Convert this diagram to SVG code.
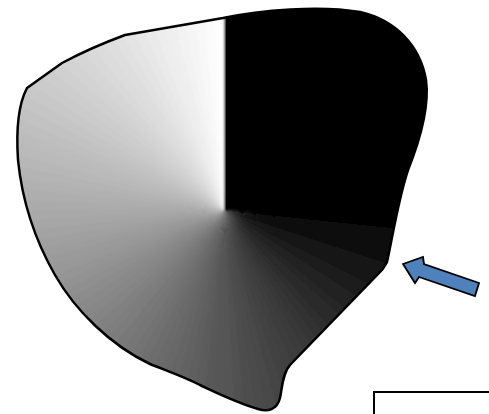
<svg xmlns="http://www.w3.org/2000/svg" xmlns:xlink="http://www.w3.org/1999/xlink" width="489" height="414" viewBox="0 0 489 414">
<style>
.outline{fill:none;stroke:#000;stroke-width:2.5;stroke-linejoin:round}
.arrow{fill:#4F81BD;stroke:#000;stroke-width:1.8;stroke-linejoin:miter}
.box{fill:none;stroke:#000;stroke-width:2}
</style>
<defs>
<path id="blob" d="M27 88 L62 63 Q90 48 125 35 L223 18 C260 10 320 5 360 12 C395 20 420 45 426 80 C430 110 418 145 408 170 C398 200 392 240 387 262 L382 270 L290 365 C282 374 282 390 280 398 C277 410 268 412 258 409 C235 402 215 392 200 385 C185 377 170 372 150 364 C110 345 75 310 55 275 C35 240 22 200 18 160 C16 130 18 105 27 88 Z"/>
<clipPath id="clip"><use xlink:href="#blob"/></clipPath>
<filter id="soft" x="-10%" y="-10%" width="120%" height="120%"><feGaussianBlur stdDeviation="1.2"/></filter>
<path id="w" d="M224 210 L224 -100 L245 -100 Z"/>
</defs>
<g id="shape">
<g clip-path="url(#clip)">
<g filter="url(#soft)">
<use xlink:href="#w" transform="rotate(90 224 210)" fill="rgb(1,1,1)"/>
<use xlink:href="#w" transform="rotate(93 224 210)" fill="rgb(4,4,4)"/>
<use xlink:href="#w" transform="rotate(96 224 210)" fill="rgb(7,7,7)"/>
<use xlink:href="#w" transform="rotate(99 224 210)" fill="rgb(10,10,10)"/>
<use xlink:href="#w" transform="rotate(102 224 210)" fill="rgb(13,13,13)"/>
<use xlink:href="#w" transform="rotate(105 224 210)" fill="rgb(16,16,16)"/>
<use xlink:href="#w" transform="rotate(108 224 210)" fill="rgb(18,18,18)"/>
<use xlink:href="#w" transform="rotate(111 224 210)" fill="rgb(21,21,21)"/>
<use xlink:href="#w" transform="rotate(114 224 210)" fill="rgb(24,24,24)"/>
<use xlink:href="#w" transform="rotate(117 224 210)" fill="rgb(27,27,27)"/>
<use xlink:href="#w" transform="rotate(120 224 210)" fill="rgb(30,30,30)"/>
<use xlink:href="#w" transform="rotate(123 224 210)" fill="rgb(33,33,33)"/>
<use xlink:href="#w" transform="rotate(126 224 210)" fill="rgb(35,35,35)"/>
<use xlink:href="#w" transform="rotate(129 224 210)" fill="rgb(38,38,38)"/>
<use xlink:href="#w" transform="rotate(132 224 210)" fill="rgb(41,41,41)"/>
<use xlink:href="#w" transform="rotate(135 224 210)" fill="rgb(44,44,44)"/>
<use xlink:href="#w" transform="rotate(138 224 210)" fill="rgb(47,47,47)"/>
<use xlink:href="#w" transform="rotate(141 224 210)" fill="rgb(50,50,50)"/>
<use xlink:href="#w" transform="rotate(144 224 210)" fill="rgb(52,52,52)"/>
<use xlink:href="#w" transform="rotate(147 224 210)" fill="rgb(55,55,55)"/>
<use xlink:href="#w" transform="rotate(150 224 210)" fill="rgb(58,58,58)"/>
<use xlink:href="#w" transform="rotate(153 224 210)" fill="rgb(61,61,61)"/>
<use xlink:href="#w" transform="rotate(156 224 210)" fill="rgb(64,64,64)"/>
<use xlink:href="#w" transform="rotate(159 224 210)" fill="rgb(67,67,67)"/>
<use xlink:href="#w" transform="rotate(162 224 210)" fill="rgb(69,69,69)"/>
<use xlink:href="#w" transform="rotate(165 224 210)" fill="rgb(72,72,72)"/>
<use xlink:href="#w" transform="rotate(168 224 210)" fill="rgb(75,75,75)"/>
<use xlink:href="#w" transform="rotate(171 224 210)" fill="rgb(78,78,78)"/>
<use xlink:href="#w" transform="rotate(174 224 210)" fill="rgb(81,81,81)"/>
<use xlink:href="#w" transform="rotate(177 224 210)" fill="rgb(84,84,84)"/>
<use xlink:href="#w" transform="rotate(180 224 210)" fill="rgb(86,86,86)"/>
<use xlink:href="#w" transform="rotate(183 224 210)" fill="rgb(89,89,89)"/>
<use xlink:href="#w" transform="rotate(186 224 210)" fill="rgb(92,92,92)"/>
<use xlink:href="#w" transform="rotate(189 224 210)" fill="rgb(95,95,95)"/>
<use xlink:href="#w" transform="rotate(192 224 210)" fill="rgb(98,98,98)"/>
<use xlink:href="#w" transform="rotate(195 224 210)" fill="rgb(101,101,101)"/>
<use xlink:href="#w" transform="rotate(198 224 210)" fill="rgb(103,103,103)"/>
<use xlink:href="#w" transform="rotate(201 224 210)" fill="rgb(106,106,106)"/>
<use xlink:href="#w" transform="rotate(204 224 210)" fill="rgb(109,109,109)"/>
<use xlink:href="#w" transform="rotate(207 224 210)" fill="rgb(112,112,112)"/>
<use xlink:href="#w" transform="rotate(210 224 210)" fill="rgb(115,115,115)"/>
<use xlink:href="#w" transform="rotate(213 224 210)" fill="rgb(118,118,118)"/>
<use xlink:href="#w" transform="rotate(216 224 210)" fill="rgb(120,120,120)"/>
<use xlink:href="#w" transform="rotate(219 224 210)" fill="rgb(123,123,123)"/>
<use xlink:href="#w" transform="rotate(222 224 210)" fill="rgb(126,126,126)"/>
<use xlink:href="#w" transform="rotate(225 224 210)" fill="rgb(129,129,129)"/>
<use xlink:href="#w" transform="rotate(228 224 210)" fill="rgb(132,132,132)"/>
<use xlink:href="#w" transform="rotate(231 224 210)" fill="rgb(135,135,135)"/>
<use xlink:href="#w" transform="rotate(234 224 210)" fill="rgb(137,137,137)"/>
<use xlink:href="#w" transform="rotate(237 224 210)" fill="rgb(140,140,140)"/>
<use xlink:href="#w" transform="rotate(240 224 210)" fill="rgb(143,143,143)"/>
<use xlink:href="#w" transform="rotate(243 224 210)" fill="rgb(146,146,146)"/>
<use xlink:href="#w" transform="rotate(246 224 210)" fill="rgb(149,149,149)"/>
<use xlink:href="#w" transform="rotate(249 224 210)" fill="rgb(152,152,152)"/>
<use xlink:href="#w" transform="rotate(252 224 210)" fill="rgb(154,154,154)"/>
<use xlink:href="#w" transform="rotate(255 224 210)" fill="rgb(157,157,157)"/>
<use xlink:href="#w" transform="rotate(258 224 210)" fill="rgb(160,160,160)"/>
<use xlink:href="#w" transform="rotate(261 224 210)" fill="rgb(163,163,163)"/>
<use xlink:href="#w" transform="rotate(264 224 210)" fill="rgb(166,166,166)"/>
<use xlink:href="#w" transform="rotate(267 224 210)" fill="rgb(169,169,169)"/>
<use xlink:href="#w" transform="rotate(270 224 210)" fill="rgb(171,171,171)"/>
<use xlink:href="#w" transform="rotate(273 224 210)" fill="rgb(174,174,174)"/>
<use xlink:href="#w" transform="rotate(276 224 210)" fill="rgb(177,177,177)"/>
<use xlink:href="#w" transform="rotate(279 224 210)" fill="rgb(180,180,180)"/>
<use xlink:href="#w" transform="rotate(282 224 210)" fill="rgb(183,183,183)"/>
<use xlink:href="#w" transform="rotate(285 224 210)" fill="rgb(186,186,186)"/>
<use xlink:href="#w" transform="rotate(288 224 210)" fill="rgb(188,188,188)"/>
<use xlink:href="#w" transform="rotate(291 224 210)" fill="rgb(191,191,191)"/>
<use xlink:href="#w" transform="rotate(294 224 210)" fill="rgb(194,194,194)"/>
<use xlink:href="#w" transform="rotate(297 224 210)" fill="rgb(197,197,197)"/>
<use xlink:href="#w" transform="rotate(300 224 210)" fill="rgb(200,200,200)"/>
<use xlink:href="#w" transform="rotate(303 224 210)" fill="rgb(203,203,203)"/>
<use xlink:href="#w" transform="rotate(306 224 210)" fill="rgb(205,205,205)"/>
<use xlink:href="#w" transform="rotate(309 224 210)" fill="rgb(208,208,208)"/>
<use xlink:href="#w" transform="rotate(312 224 210)" fill="rgb(211,211,211)"/>
<use xlink:href="#w" transform="rotate(315 224 210)" fill="rgb(214,214,214)"/>
<use xlink:href="#w" transform="rotate(318 224 210)" fill="rgb(217,217,217)"/>
<use xlink:href="#w" transform="rotate(321 224 210)" fill="rgb(220,220,220)"/>
<use xlink:href="#w" transform="rotate(324 224 210)" fill="rgb(222,222,222)"/>
<use xlink:href="#w" transform="rotate(327 224 210)" fill="rgb(225,225,225)"/>
<use xlink:href="#w" transform="rotate(330 224 210)" fill="rgb(228,228,228)"/>
<use xlink:href="#w" transform="rotate(333 224 210)" fill="rgb(231,231,231)"/>
<use xlink:href="#w" transform="rotate(336 224 210)" fill="rgb(234,234,234)"/>
<use xlink:href="#w" transform="rotate(339 224 210)" fill="rgb(237,237,237)"/>
<use xlink:href="#w" transform="rotate(342 224 210)" fill="rgb(239,239,239)"/>
<use xlink:href="#w" transform="rotate(345 224 210)" fill="rgb(242,242,242)"/>
<use xlink:href="#w" transform="rotate(348 224 210)" fill="rgb(245,245,245)"/>
<use xlink:href="#w" transform="rotate(351 224 210)" fill="rgb(248,248,248)"/>
<use xlink:href="#w" transform="rotate(354 224 210)" fill="rgb(251,251,251)"/>
<use xlink:href="#w" transform="rotate(357 224 210)" fill="rgb(254,254,254)"/>
<rect x="224" y="-100" width="320" height="310" fill="#000"/>
</g>
</g>
<use xlink:href="#blob" class="outline"/>
</g>
<g id="arrow">
<path class="arrow" d="M403 264 L423 257 L424 264 L479 283 L475 296 L419 277 L415 283 Z"/>
</g>
<g id="box">
<rect class="box" x="374" y="392" width="140" height="40"/>
</g>
</svg>
